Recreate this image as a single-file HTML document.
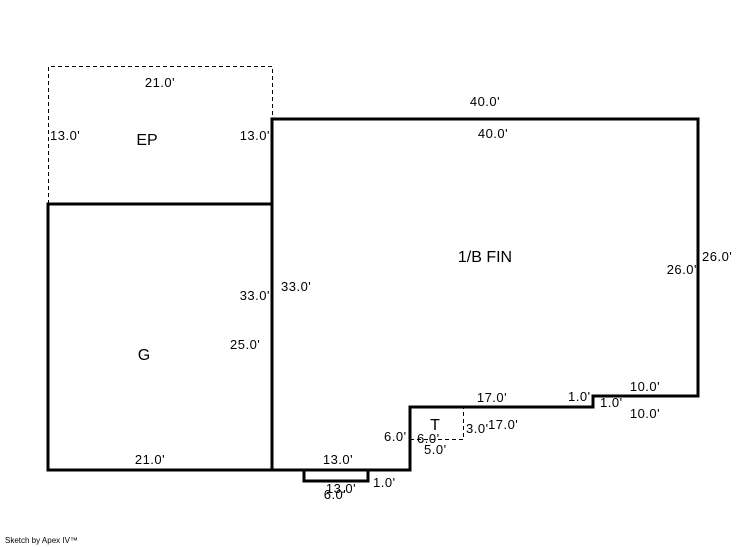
<!DOCTYPE html>
<html><head><meta charset="utf-8"><style>
html,body{margin:0;padding:0;background:#fff;}
svg{display:block}
text{font-family:"Liberation Sans",Arial,sans-serif;font-size:13px;letter-spacing:0.5px;fill:#000}
.b{font-size:16px;letter-spacing:0}
</style></head><body>
<svg width="746" height="547" viewBox="0 0 746 547" xmlns="http://www.w3.org/2000/svg">
<g fill="none" stroke="#000" stroke-width="1" stroke-dasharray="4,3">
<polyline points="48.5,204 48.5,66.5 272.5,66.5 272.5,119"/>
<polyline points="410,439.5 463.5,439.5 463.5,407"/>
</g>
<g fill="none" stroke="#000" stroke-width="3" stroke-linejoin="miter">
<polyline points="272,470 272,119 698,119 698,396 593,396 593,407 410,407 410,470 48,470 48,204 272,204"/>
<polyline points="304,470 304,481 368,481 368,470"/>
</g>
<text x="160" y="87" text-anchor="middle">21.0'</text>
<text x="50" y="140">13.0'</text>
<text x="147" y="145" text-anchor="middle" class="b">EP</text>
<text x="270" y="140" text-anchor="end">13.0'</text>
<text x="485" y="106" text-anchor="middle">40.0'</text>
<text x="493" y="138" text-anchor="middle">40.0'</text>
<text x="485" y="262" text-anchor="middle" class="b">1/B FIN</text>
<text x="697" y="274" text-anchor="end">26.0'</text>
<text x="702" y="261">26.0'</text>
<text x="270" y="300" text-anchor="end">33.0'</text>
<text x="281" y="291">33.0'</text>
<text x="230" y="349">25.0'</text>
<text x="144" y="360" text-anchor="middle" class="b">G</text>
<text x="150" y="464" text-anchor="middle">21.0'</text>
<text x="338" y="464" text-anchor="middle">13.0'</text>
<text x="341" y="493" text-anchor="middle">13.0'</text>
<text x="335" y="499" text-anchor="middle">6.0'</text>
<text x="373" y="487">1.0'</text>
<text x="384" y="441">6.0'</text>
<text x="417" y="443">6.0'</text>
<text x="424" y="454">5.0'</text>
<text x="435" y="430" text-anchor="middle" class="b">T</text>
<text x="466" y="433">3.0'</text>
<text x="488" y="429">17.0'</text>
<text x="492" y="402" text-anchor="middle">17.0'</text>
<text x="568" y="401">1.0'</text>
<text x="600" y="407">1.0'</text>
<text x="645" y="391" text-anchor="middle">10.0'</text>
<text x="645" y="418" text-anchor="middle">10.0'</text>
<text x="5" y="543" style="font-size:8px;letter-spacing:0">Sketch by Apex IV™</text>
</svg>
</body></html>
